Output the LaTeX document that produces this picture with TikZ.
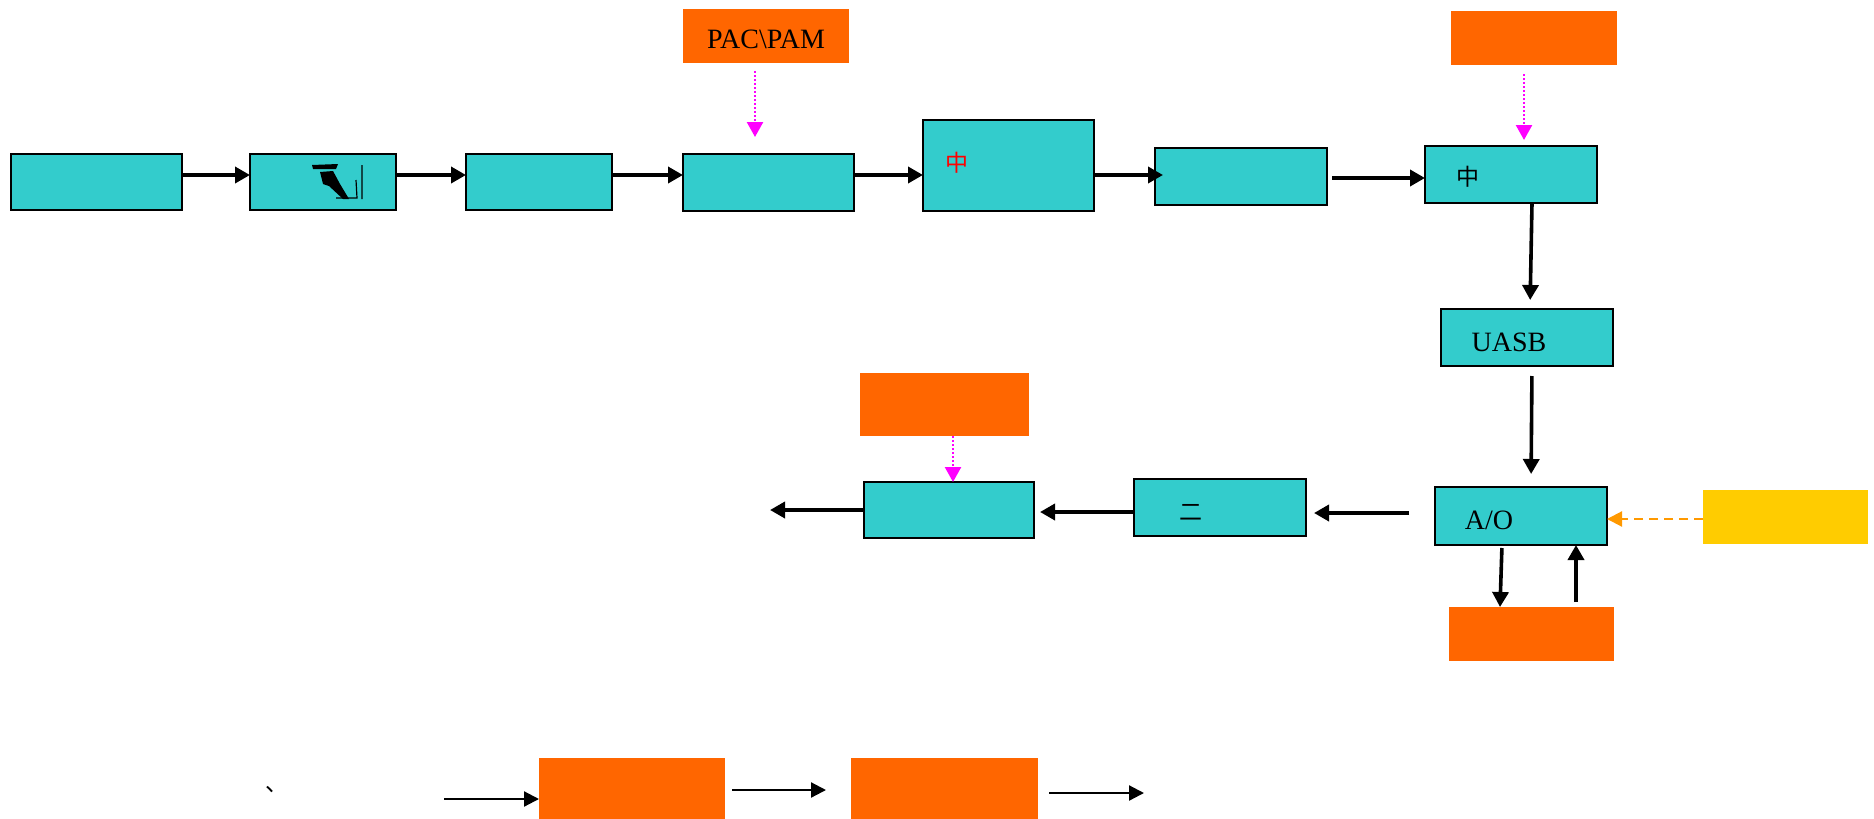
\documentclass[tikz,border=0pt]{standalone}
\usepackage{fontspec}
\setmainfont{Liberation Serif}
\newfontfamily\cjk{Noto Sans CJK SC}
\usetikzlibrary{arrows.meta}
\definecolor{cyanbox}{HTML}{33CCCC}
\definecolor{orangebox}{HTML}{FF6600}
\definecolor{yellowbox}{HTML}{FFCC00}
\definecolor{magentaline}{HTML}{FF00FF}
\definecolor{dashorange}{HTML}{FF9900}
\begin{document}
\begin{tikzpicture}[x=0.5pt,y=-0.5pt,
  proc/.style={draw=black, line width=1.3pt, fill=cyanbox, inner sep=0pt, outer sep=0pt, anchor=north west},
  chem/.style={fill=orangebox, inner sep=0pt, outer sep=0pt, anchor=north west},
  air/.style={fill=yellowbox, inner sep=0pt, outer sep=0pt, anchor=north west},
  lbl/.style={inner sep=0pt, font=\fontsize{14}{16}\selectfont},
  cjklbl/.style={inner sep=0pt, font=\cjk\fontsize{11.5}{13}\selectfont},
  flow/.style={-{Triangle[length=7.5pt,width=8pt]}, line width=1.8pt, black},
  thinflow/.style={-{Triangle[length=7.5pt,width=7.5pt]}, line width=1.1pt, black},
  dose/.style={-{Triangle[length=7.5pt,width=8pt]}, line width=1.2pt, magentaline, dash pattern=on 1.2pt off 0.8pt},
  airflow/.style={-{Triangle[length=7.5pt,width=7.5pt]}, line width=1.1pt, dashorange, dash pattern=on 4.5pt off 3pt}]
\useasboundingbox (0,0) rectangle (1874,819);
\fill[white] (0,0) rectangle (1874,819);

% row 1
\node[proc, minimum width=85.5pt, minimum height=28pt] (b1) at (11,154) {};
\node[proc, minimum width=73pt, minimum height=28pt] (b2) at (250,154) {};
\node[proc, minimum width=73pt, minimum height=28pt] (b3) at (466,154) {};
\node[proc, minimum width=85.5pt, minimum height=28.5pt] (b4) at (683,154) {};
\node[proc, minimum width=85.5pt, minimum height=45.5pt] (b5) at (923,120) {};
\node[proc, minimum width=86pt, minimum height=28.5pt] (b6) at (1155,148) {};
\node[proc, minimum width=86pt, minimum height=28.5pt] (b7) at (1425,146) {};

% dosing boxes
\node[chem, minimum width=83pt, minimum height=27pt] (pac) at (683,9) {};
\node[lbl] (pact) at (766,39) {PAC\textbackslash PAM};
\node[chem, minimum width=83pt, minimum height=27pt] (otr) at (1451,11) {};

% right column
\node[proc, minimum width=86pt, minimum height=28.5pt] (uasb) at (1441,309) {};
\node[lbl] (uasbt) at (1509,342) {UASB};
\node[proc, minimum width=86pt, minimum height=29pt] (ao) at (1435,487) {};
\node[lbl] (aot) at (1489,520) {A/O};
\node[air, minimum width=82.5pt, minimum height=27pt] (yel) at (1703,490) {};
\node[chem, minimum width=82.5pt, minimum height=27pt] (obr) at (1449,607) {};

% row 2
\node[proc, minimum width=86pt, minimum height=28.5pt] (b8) at (1134,479) {};
\node[proc, minimum width=85pt, minimum height=28pt] (b9) at (864,482) {};
\node[chem, minimum width=84.5pt, minimum height=31.5pt] (ol) at (860,373) {};

% bottom row
\node[chem, minimum width=93pt, minimum height=30.5pt] (oa) at (539,758) {};
\node[chem, minimum width=93.5pt, minimum height=30.5pt] (ob) at (851,758) {};

% texts in boxes
\node[cjklbl, text=red] (t5) at (957,163) {中};
\node[cjklbl] (t7) at (1468,177) {中};
\node[cjklbl] (t8) at (1191,512) {二};
\node[cjklbl] (tc) at (277,790) {、};

% garbled glyph in b2
\fill[black] (312,165) -- (338,164) -- (336,169) -- (313,169) -- cycle;
\fill[black] (320,172) -- (333,171) -- (340,184) -- (349,199) -- (343,199) -- (329,186) -- (323,184) -- cycle;
\draw[black, line width=0.6pt] (362,165) -- (362,199) (336,198) -- (357,198) -- (356,180);

% helper coordinates
\coordinate (r1) at (0,175);
\coordinate (r1b) at (0,178);
\coordinate (r2) at (0,513);
\coordinate (r3) at (0,512);
\coordinate (r4) at (0,510);
\coordinate (r5) at (0,519);
\coordinate (out) at (770,510);
\coordinate (cin) at (444,799);
\coordinate (cout) at (1144,793);
\coordinate (d1) at (755,0);
\coordinate (d2) at (1524,0);
\coordinate (d3) at (953,0);

% row 1 arrows
\draw[flow] (b1.east |- r1) -- (b2.west |- r1);
\draw[flow] (b2.east |- r1) -- (b3.west |- r1);
\draw[flow] (b3.east |- r1) -- (b4.west |- r1);
\draw[flow] (b4.east |- r1) -- (b5.west |- r1);
\draw[flow, shorten >=-4pt] (b5.east |- r1) -- (b6.west |- r1);
\draw[flow, shorten <=2.5pt] (b6.east |- r1b) -- (b7.west |- r1b);

% dosing arrows
\draw[dose, shorten <=4pt, shorten >=8.5pt] (d1 |- pac.south) -- (d1 |- b4.north);
\draw[dose, shorten <=4.5pt, shorten >=3pt] (d2 |- otr.south) -- (d2 |- b7.north);
\draw[dose] (d3 |- ol.south) -- (d3 |- b9.north);

% right column arrows
\draw[flow, shorten >=4.5pt] ([xshift=10.5pt]b7.south) -- ([xshift=1.5pt]uasb.north);
\draw[flow, shorten <=5pt, shorten >=6.5pt] ([xshift=2.5pt]uasb.south) -- ([xshift=5pt]ao.north);
\draw[flow, shorten <=1.5pt] ([xshift=-9.5pt]ao.south) -- ([xshift=-15.75pt]obr.north);
\draw[flow, shorten <=2.5pt] ([xshift=22.25pt]obr.north) -- ([xshift=27.5pt]ao.south);
\draw[airflow] (yel.west |- r5) -- (ao.east |- r5);

% row 2 arrows
\draw[flow, shorten <=13pt, shorten >=4pt] (ao.west |- r2) -- (b8.east |- r2);
\draw[flow, shorten >=3pt] (b8.west |- r3) -- (b9.east |- r3);
\draw[flow] (b9.west |- r4) -- (out);

% bottom row arrows
\draw[thinflow] (cin) -- (oa.west |- cin);
\draw[thinflow, shorten <=3.5pt, shorten >=12.5pt] (oa.east |- 0,790) -- (ob.west |- 0,790);
\draw[thinflow, shorten <=5.5pt] (ob.east |- cout) -- (cout);
\end{tikzpicture}
\end{document}
